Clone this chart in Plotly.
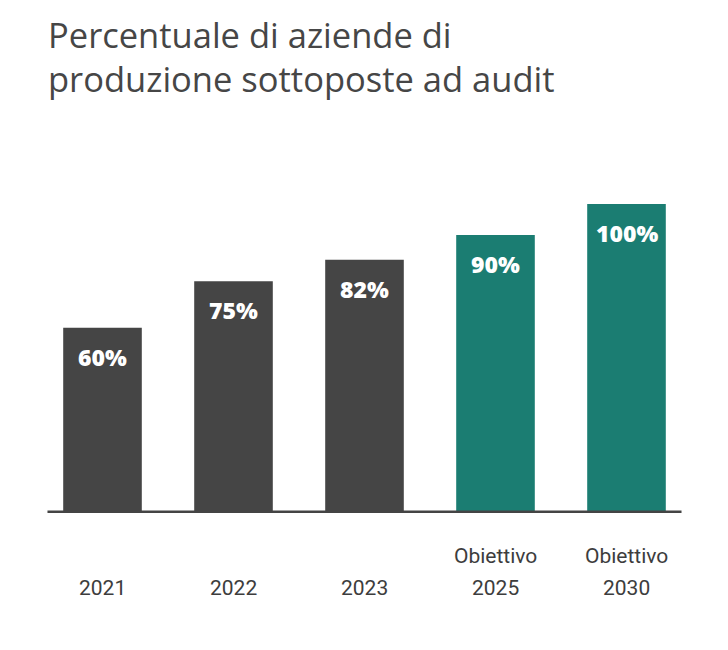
import plotly.graph_objects as go

categories = ["2021", "2022", "2023", "Obiettivo<br>2025", "Obiettivo<br>2030"]
values = [60, 75, 82, 90, 100]
labels = ["60%", "75%", "82%", "90%", "100%"]
colors = ["#454545", "#454545", "#454545", "#1b7d72", "#1b7d72"]
title_lines = ["Percentuale di aziende di", "produzione sottoposte ad audit"]

W, H = 728, 650
L, R, T, B = 37, 36, 150, 137
PH = H - T - B
x_idx = list(range(len(categories)))

def py(px):
    return (H - B - px) / PH

fig = go.Figure()
fig.add_trace(go.Bar(
    x=x_idx, y=values, marker=dict(color=colors, line=dict(width=0)),
    width=0.6, hoverinfo="skip",
))

for i, (v, lab) in enumerate(zip(values, labels)):
    fig.add_annotation(x=i, y=v, xref="x", yref="y", text=lab, showarrow=False,
                       yanchor="middle", yshift=-29,
                       font=dict(family="Open Sans", size=23, color="white", weight=800))

for i, c in enumerate(categories):
    lines = c.split("<br>")
    for j, ln in enumerate(reversed(lines)):
        fig.add_annotation(x=i, y=py(588 - 32 * j), xref="x", yref="paper", text=ln,
                           showarrow=False, yanchor="middle", align="center",
                           font=dict(family="Roboto", size=21, color="#3d3d3d"))

for k, (t, yc) in enumerate(zip(title_lines, [34, 79])):
    fig.add_annotation(x=(46 - L) / (W - L - R), y=py(yc), xref="paper", yref="paper",
                       text=t, showarrow=False, xanchor="left", yanchor="middle",
                       font=dict(family="Open Sans", size=34.5, color="#464646"))

# baseline
fig.add_shape(type="line", xref="x", yref="y", x0=-0.42, x1=4.42, y0=0, y1=0,
              line=dict(color="#444444", width=5), layer="above")

fig.update_layout(
    width=W, height=H,
    margin=dict(l=L, r=R, t=T, b=B),
    paper_bgcolor="white", plot_bgcolor="white",
    showlegend=False,
    xaxis=dict(range=[-0.5, 4.5], showticklabels=False, showgrid=False, zeroline=False,
               showline=False, fixedrange=True),
    yaxis=dict(range=[0, 117.5], showticklabels=False, showgrid=False, zeroline=False,
               showline=False, fixedrange=True),
)

fig.write_html("out.html")
